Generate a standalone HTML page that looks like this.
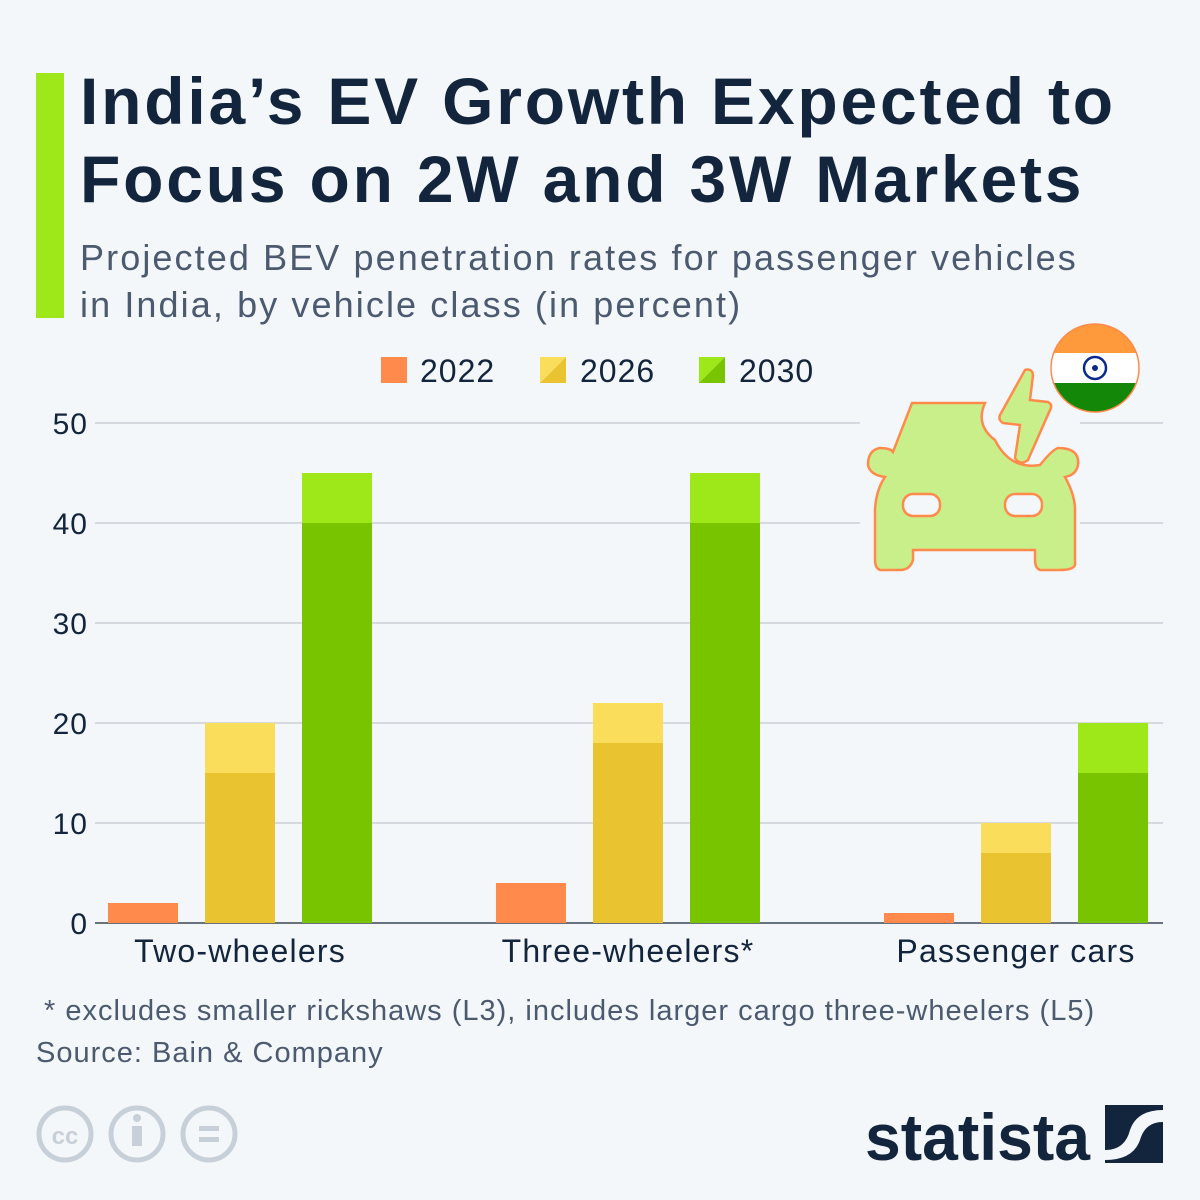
<!DOCTYPE html>
<html><head><meta charset="utf-8">
<style>
body{margin:0;background:#f4f7fa;}
#wrap{position:relative;width:1200px;height:1200px;background:#f4f7fa;font-family:"Liberation Sans",sans-serif;overflow:hidden}
.t{position:absolute;left:80px;top:62px;font-size:66px;font-weight:bold;color:#13253c;line-height:78px;letter-spacing:2.8px}
.s{position:absolute;left:80px;top:234px;font-size:36px;color:#4b5a6e;line-height:47px;letter-spacing:2.1px}
.bar{position:absolute;left:36px;top:73px;width:28px;height:245px;background:#9ee81a}
</style></head><body>
<div id="wrap">
<div class="bar"></div>
<div class="t">India’s EV Growth Expected to<br>Focus on 2W and 3W Markets</div>
<div class="s">Projected BEV penetration rates for passenger vehicles<br>in India, by vehicle class (in percent)</div>
<svg id="chart" width="1200" height="1200" style="position:absolute;left:0;top:0"></svg>
</div>
<script>
const categories=["Two-wheelers","Three-wheelers*","Passenger cars"];
const v2022=[2,4,1];
const v2026Low=[15,18,7];
const v2026High=[20,22,10];
const v2030Low=[40,40,15];
const v2030High=[45,45,20];
const yTicks=[0,10,20,30,40,50];
const NS="http://www.w3.org/2000/svg";
const svg=document.getElementById('chart');
function y(v){return 923-v*10;}
function gx(i,s){return 108+i*388+s*97;}
function el(t,a,p){const e=document.createElementNS(NS,t);for(const k in a)e.setAttribute(k,a[k]);(p||svg).appendChild(e);return e;}
yTicks.forEach(t=>{
 const l=el('line',{x1:95,x2:1163,y1:y(t),y2:y(t),stroke:t===0?'#3a4656':'#c3c9d0','stroke-width':t===0?1.5:1.2});
 
 
 const tx=el('text',{x:88,y:y(t)+11,'text-anchor':'end','font-size':30,fill:'#13253c','font-family':'Liberation Sans, sans-serif','letter-spacing':1});
 tx.textContent=t;
 
 
});
function rect(x,v0,v1,c,name){
 const r=el('rect',{x:x,y:y(v1),width:70,height:y(v0)-y(v1),fill:c});
 
 
}
categories.forEach((c,i)=>{
 rect(gx(i,0),0,v2022[i],'#ff8a4c','bar-2022');
 rect(gx(i,1),0,v2026Low[i],'#eac331','bar-2026-low');
 rect(gx(i,1),v2026Low[i],v2026High[i],'#fadd5a','bar-2026-high');
 rect(gx(i,2),0,v2030Low[i],'#79c400','bar-2030-low');
 rect(gx(i,2),v2030Low[i],v2030High[i],'#9ee81a','bar-2030-high');
 const tx=el('text',{x:gx(i,1)+35,y:962,'text-anchor':'middle','font-size':32,fill:'#13253c','font-family':'Liberation Sans, sans-serif','letter-spacing':1.2});
 tx.textContent=c;
 
 
});
</script>
<svg width="1200" height="1200" style="position:absolute;left:0;top:0;font-family:'Liberation Sans',sans-serif">
 <g font-size="32" fill="#13253c" letter-spacing="1">
  <rect x="381" y="357" width="26" height="26" fill="#ff8a4c"/><text x="420" y="382">2022</text>
  <polygon points="540,357 566,357 540,383" fill="#fadd5a"/><polygon points="566,357 566,383 540,383" fill="#eac331"/><text x="580" y="382">2026</text>
  <polygon points="699,357 725,357 699,383" fill="#9ee81a"/><polygon points="725,357 725,383 699,383" fill="#79c400"/><text x="739" y="382">2030</text>
 </g>
 <g>
  <rect x="860" y="405" width="220" height="180" fill="#f4f7fa"/>
  <path d="M912,403 L985,403 Q975,425 995,440 Q1010,470 1040,465 Q1052,450 1058,448 Q1080,448 1078,465 Q1076,475 1065,477 Q1075,495 1075,510 L1075,565 Q1073,570 1060,570 L1040,570 Q1035,568 1035,560 L1035,550 L913,550 L913,560 Q910,570 900,570 L880,570 Q875,568 875,560 L875,510 Q876,490 885,477 Q870,475 868,465 Q868,450 880,448 Q890,448 893,452 Z" fill="#c9ef8a" stroke="#ff8a4c" stroke-width="2.5"/>
  <rect x="903" y="494" width="37" height="22" rx="10" fill="#f4f7fa" stroke="#ff8a4c" stroke-width="2.5"/>
  <rect x="1005" y="494" width="37" height="22" rx="10" fill="#f4f7fa" stroke="#ff8a4c" stroke-width="2.5"/>
  <path d="M1025,370 Q1032,368 1033,375 L1030,400 L1048,402 Q1053,405 1050,410 L1028,460 Q1020,466 1015,458 L1020,425 L1003,423 Q998,420 1000,415 Z" fill="#c9ef8a" stroke="#ff8a4c" stroke-width="2.5"/>
 </g>
 <g>
  <clipPath id="fc"><circle cx="1095" cy="368" r="44"/></clipPath>
  <g clip-path="url(#fc)"><rect x="1050" y="323" width="90" height="30" fill="#ff9a3c"/><rect x="1050" y="353" width="90" height="30" fill="#fff"/><rect x="1050" y="383" width="90" height="30" fill="#138808"/></g>
  <circle cx="1095" cy="368" r="44" fill="none" stroke="#ff8a4c" stroke-width="1.5"/>
  <circle cx="1095" cy="368" r="11" fill="none" stroke="#0a2a8a" stroke-width="2.5"/><circle cx="1095" cy="368" r="3" fill="#0a2a8a"/>
 </g>
 <text x="44" y="1020" font-size="29" fill="#4b5a6e" letter-spacing="1">* excludes smaller rickshaws (L3), includes larger cargo three-wheelers (L5)</text>
 <text x="36" y="1062" font-size="29" fill="#4b5a6e" letter-spacing="1">Source: Bain &amp; Company</text>
 <g fill="none" stroke="#c7d0d8" stroke-width="5">
  <circle cx="65" cy="1134" r="26"/><circle cx="137" cy="1134" r="26"/><circle cx="209" cy="1134" r="26"/>
  <text x="65" y="1144" font-size="24" font-weight="bold" fill="#c7d0d8" stroke="none" text-anchor="middle">cc</text>
  <rect x="132" y="1126" width="10" height="20" fill="#c7d0d8" stroke="none"/><circle cx="137" cy="1118" r="4" fill="#c7d0d8" stroke="none"/>
  <rect x="199" y="1126" width="20" height="5" fill="#c7d0d8" stroke="none"/><rect x="199" y="1137" width="20" height="5" fill="#c7d0d8" stroke="none"/>
 </g>
 <g>
  <text x="865" y="1160" font-size="66" font-weight="bold" fill="#13253c" textLength="225" lengthAdjust="spacingAndGlyphs">statista</text>
  <rect x="1105" y="1105" width="58" height="58" fill="#13253c"/>
  <path d="M1105,1150 Q1125,1150 1130,1130 Q1137,1110 1163,1110 L1163,1122 Q1145,1122 1140,1140 Q1133,1160 1105,1160 Z" fill="#f4f7fa"/>
 </g>
</svg>
</body></html>
